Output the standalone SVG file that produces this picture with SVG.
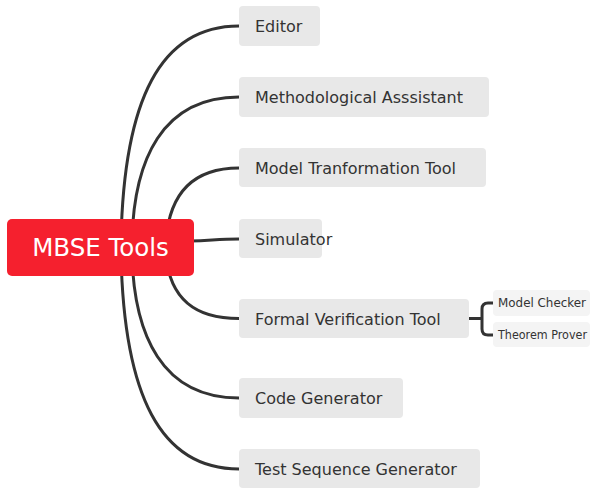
<svg xmlns="http://www.w3.org/2000/svg" width="590" height="489" viewBox="0 0 590 489">
<style>
.ln{fill:none;stroke:#333333;stroke-width:3;stroke-linecap:round}
.box{fill:#e8e8e8}
.sub{fill:#f4f4f4}
.t{font-family:"DejaVu Sans","Liberation Sans",sans-serif;font-size:16px;fill:#333333}
.ts{font-family:"DejaVu Sans","Liberation Sans",sans-serif;font-size:11.5px;fill:#333333}
.tc{font-family:"DejaVu Sans","Liberation Sans",sans-serif;font-size:24.5px;fill:#ffffff}
</style>
<rect width="590" height="489" fill="#ffffff"/>
<g id="connectors">
<path class="ln" d="M121 240 C124 100 160 26 239 26"/>
<path class="ln" d="M132 240 C134 160 162 97 239 97"/>
<path class="ln" d="M166 240 C170 190 196 168 239 168"/>
<path class="ln" d="M190 241 C215 240 220 239 239 239"/>
<path class="ln" d="M166 255 C170 300 196 318.5 239 318.5"/>
<path class="ln" d="M132 255 C134 335 162 398 239 398"/>
<path class="ln" d="M121 255 C124 395 160 469 239 469"/>
<path class="ln" d="M469 318.5 H482 M493 303 H488 Q482 303 482 309 V329 Q482 335 488 335 H493"/>
</g>
<g id="n-editor"><rect class="box" x="239" y="6" width="81" height="40" rx="4"/><text class="t" x="255" y="32">Editor</text></g>
<g id="n-method"><rect class="box" x="239" y="77" width="250" height="40" rx="4"/><text class="t" x="255" y="103">Methodological Asssistant</text></g>
<g id="n-model"><rect class="box" x="239" y="148" width="247" height="39" rx="4"/><text class="t" x="255" y="174">Model Tranformation Tool</text></g>
<g id="n-sim"><rect class="box" x="239" y="219" width="83" height="39" rx="4"/><text class="t" x="255" y="245">Simulator</text></g>
<g id="n-formal"><rect class="box" x="239" y="299" width="230" height="39" rx="4"/><text class="t" x="255" y="325">Formal Verification Tool</text></g>
<g id="n-code"><rect class="box" x="239" y="378" width="164" height="40" rx="4"/><text class="t" x="255" y="404">Code Generator</text></g>
<g id="n-test"><rect class="box" x="239" y="449" width="241" height="39" rx="4"/><text class="t" x="255" y="475">Test Sequence Generator</text></g>
<g id="n-checker"><rect class="sub" x="493" y="290" width="97" height="26" rx="4"/><text class="ts" x="498" y="307" textLength="88" lengthAdjust="spacingAndGlyphs">Model Checker</text></g>
<g id="n-prover"><rect class="sub" x="493" y="322" width="97" height="25" rx="4"/><text class="ts" x="498" y="339" textLength="89" lengthAdjust="spacingAndGlyphs">Theorem Prover</text></g>
<g id="n-root"><rect x="7" y="219" width="187" height="57" rx="5" fill="#f5202e"/><text class="tc" x="100.5" y="256" text-anchor="middle">MBSE Tools</text></g>
</svg>
